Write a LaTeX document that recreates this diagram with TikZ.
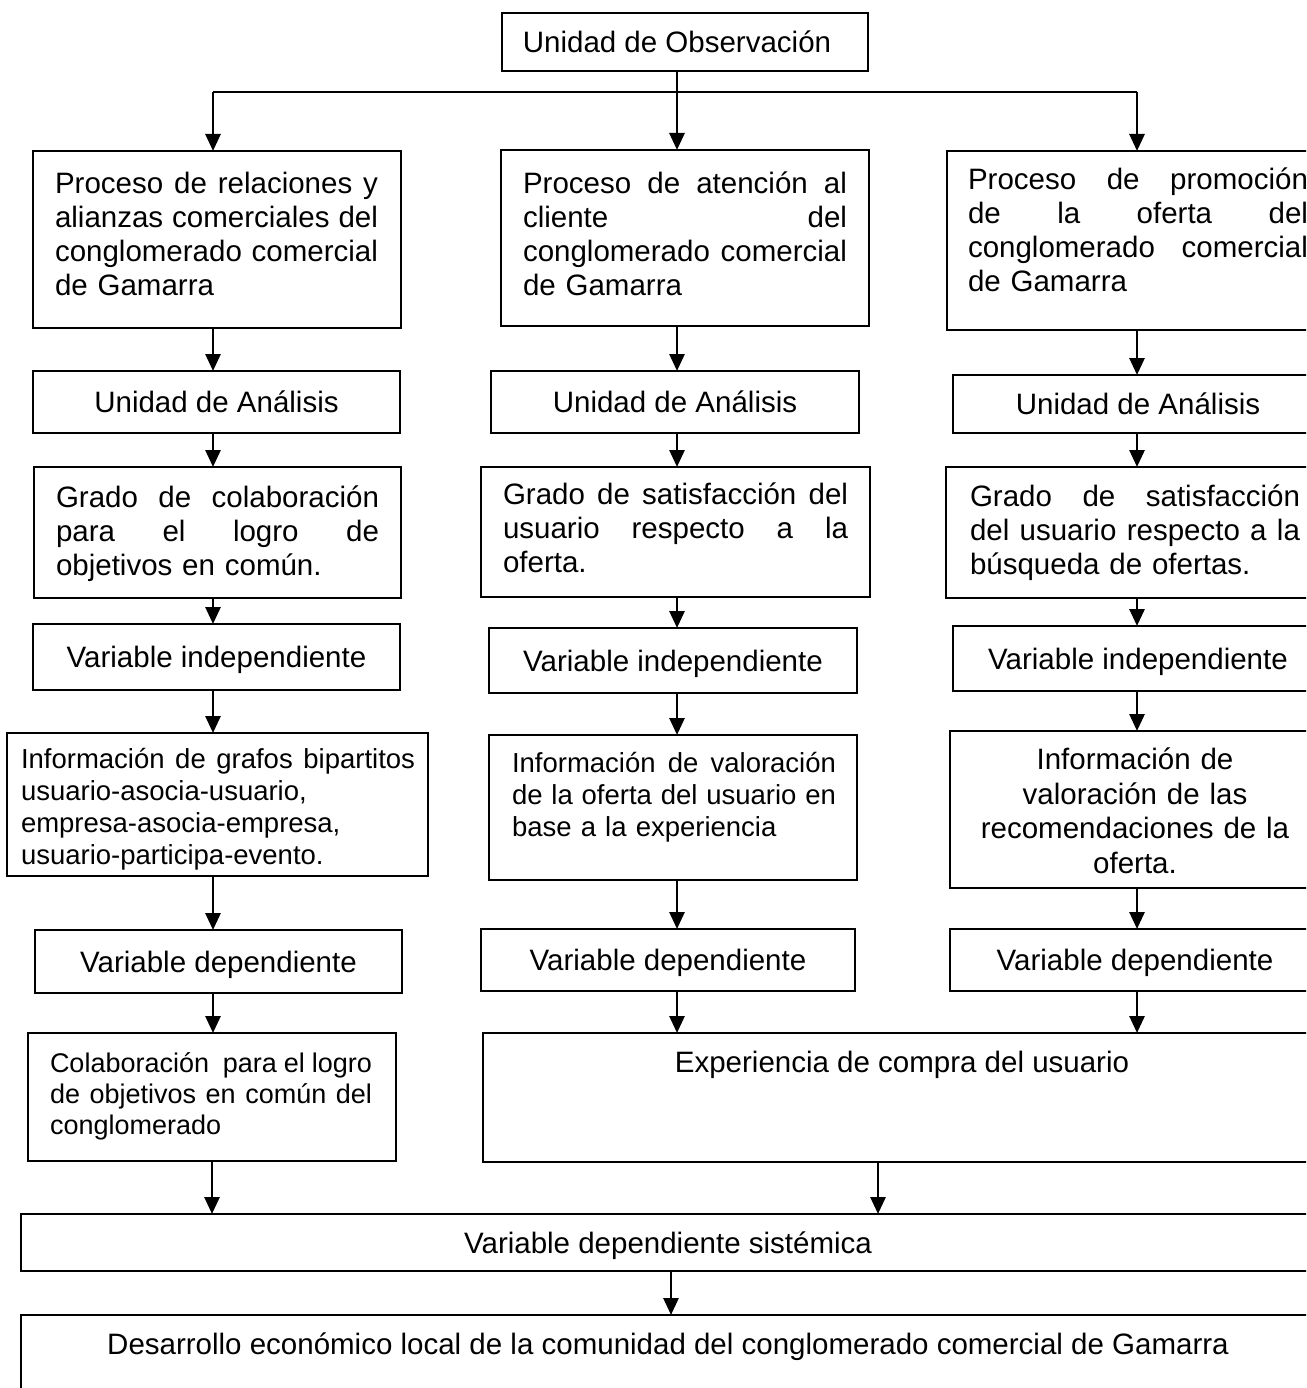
\documentclass[tikz,border=0pt]{standalone}
\usepackage{fontspec}
\setmainfont{Liberation Sans}
\usetikzlibrary{arrows.meta}
% one justified line of a given width: the interword spaces stretch to fill it
\newcommand\jl[2]{\leavevmode\hbox to #1{\spaceskip=0.278em plus 10em minus 0.06em\relax #2}}
% a rectangle given by its corners (x1,y1) and (x2,y2), with optional centred text
\newcommand\bx[7]{%
  \node[#6, minimum width={(#4-#2)*1pt}, minimum height={(#5-#3)*1pt},
        anchor=north west] (#1) at (#2,#3) {#7};}
\begin{document}
\begin{tikzpicture}[x=1pt,y=-1pt,
  frame/.style={draw, line width=2.8pt, inner sep=0pt, outer sep=0pt, rectangle},
  lbl/.style={frame, font=\fontsize{29.5}{34}\selectfont, text height=21pt, text depth=0pt},
  para/.style={inner sep=0pt, outer sep=0pt, anchor=north west, align=left,
               font=\fontsize{29.5}{34}\selectfont},
  smallpara/.style={para, font=\fontsize{27.5}{32}\selectfont},
  oneline/.style={inner sep=0pt, outer sep=0pt, font=\fontsize{29.5}{34}\selectfont},
  arr/.style={line width=2.8pt, -{Triangle[length=17pt,width=15pt]}},
  wire/.style={line width=2.8pt}]

\useasboundingbox (0,0) rectangle (1306,1388);
\fill[white] (0,0) rectangle (1306,1388);
\clip (0,0) rectangle (1306,1388);

% column guides for the vertical connectors
\coordinate (cL) at (213,0);
\coordinate (cM) at (677,0);
\coordinate (cR) at (1137,0);
\coordinate (cE) at (878,0);
\coordinate (cS) at (671,0);
\coordinate (bus) at (677,92);

% ---- top
\bx{obs}{502}{13}{868}{71}{frame}{}
\node[oneline, text height=21pt, text depth=0pt] (obsT) at (677,42) {Unidad de Observación};

% ---- left column
\bx{L1}{33}{151}{401}{328}{frame}{}
\node[para, text width=323pt] (L1t) at (55,172)
  {\jl{323pt}{Proceso de relaciones y}\\ \jl{323pt}{alianzas comerciales del}\\
   \jl{323pt}{conglomerado comercial}\\ de Gamarra};
\bx{L2}{33}{371}{400}{433}{lbl}{Unidad de Análisis}
\bx{L3}{34}{467}{401}{598}{frame}{}
\node[para, text width=323pt] (L3t) at (56,486)
  {\jl{323pt}{Grado de colaboración}\\ \jl{323pt}{para el logro de}\\ objetivos en común.};
\bx{L4}{33}{624}{400}{690}{lbl}{Variable independiente}
\bx{L5}{7}{733}{428}{876}{frame}{}
\node[smallpara, text width=394pt] (L5t) at (21,748)
  {\jl{394pt}{Información de grafos bipartitos}\\ usuario-asocia-usuario,\\
   empresa-asocia-empresa,\\ usuario-participa-evento.};
\bx{L6}{35}{930}{402}{993}{lbl}{Variable dependiente}
\bx{L7}{28}{1033}{396}{1161}{frame}{}
\node[para, font=\fontsize{27}{31}\selectfont, text width=322pt] (L7t) at (50,1053)
  {\jl{322pt}{Colaboración\ \ para el logro}\\ \jl{322pt}{de objetivos en común del}\\ conglomerado};

% ---- middle column
\bx{M1}{501}{150}{869}{326}{frame}{}
\node[para, text width=324pt] (M1t) at (523,172)
  {\jl{324pt}{Proceso de atención al}\\ \jl{324pt}{cliente del}\\
   \jl{324pt}{conglomerado comercial}\\ de Gamarra};
\bx{M2}{491}{371}{859}{433}{lbl}{Unidad de Análisis}
\bx{M3}{481}{467}{870}{597}{frame}{}
\node[para, text width=345pt] (M3t) at (503,483)
  {\jl{345pt}{Grado de satisfacción del}\\ \jl{345pt}{usuario respecto a la}\\ oferta.};
\bx{M4}{489}{628}{857}{693}{lbl}{Variable independiente}
\bx{M5}{489}{735}{857}{880}{frame}{}
\node[smallpara, text width=324pt] (M5t) at (512,752)
  {\jl{324pt}{Información de valoración}\\ \jl{324pt}{de la oferta del usuario en}\\ base a la experiencia};
\bx{M6}{481}{929}{855}{991}{lbl}{Variable dependiente}

% ---- right column
\bx{R1}{947}{151}{1340}{330}{frame}{}
\node[para, text width=340pt] (R1t) at (968,168)
  {\jl{340pt}{Proceso de promoción}\\ \jl{340pt}{de la oferta del}\\
   \jl{340pt}{conglomerado comercial}\\ de Gamarra};
\bx{R2}{953}{375}{1323}{433}{lbl}{Unidad de Análisis}
\bx{R3}{946}{467}{1325}{598}{frame}{}
\node[para, text width=330pt] (R3t) at (970,485)
  {\jl{330pt}{Grado de satisfacción}\\ \jl{330pt}{del usuario respecto a la}\\ búsqueda de ofertas.};
\bx{R4}{953}{626}{1323}{691}{lbl}{Variable independiente}
\bx{R5}{950}{731}{1319}{888}{frame}{}
\node[para, anchor=north, align=center, text width=340pt,
      font=\fontsize{29.5}{34.5}\selectfont] (R5t) at (1135,748)
  {Información de\\ valoración de las\\ recomendaciones de la\\ oferta.};
\bx{R6}{950}{929}{1320}{991}{lbl}{Variable dependiente}

% ---- bottom
\bx{E}{483}{1033}{1340}{1162}{frame}{}
\node[oneline, anchor=base] (Et) at (902,1072) {Experiencia de compra del usuario};
\bx{S}{21}{1214}{1315}{1271}{lbl}{Variable dependiente sistémica}
\bx{D}{21}{1315}{1315}{1420}{frame}{}
\node[oneline, anchor=base] (Dt) at (668,1354)
  {Desarrollo económico local de la comunidad del conglomerado comercial de Gamarra};

% ---- connectors
\draw[wire] (obs.south -| cM) -- (bus);
\draw[wire] (bus -| cL) -- (bus -| cR);
\draw[arr] (bus -| cL) -- (L1.north -| cL);
\draw[arr] (bus) -- (M1.north -| cM);
\draw[arr] (bus -| cR) -- (R1.north -| cR);

\foreach \a/\b in {L1/L2, L2/L3, L3/L4, L4/L5, L5/L6, L6/L7}
  \draw[arr] (\a.south -| cL) -- (\b.north -| cL);
\foreach \a/\b in {M1/M2, M2/M3, M3/M4, M4/M5, M5/M6, M6/E}
  \draw[arr] (\a.south -| cM) -- (\b.north -| cM);
\foreach \a/\b in {R1/R2, R2/R3, R3/R4, R4/R5, R5/R6, R6/E}
  \draw[arr] (\a.south -| cR) -- (\b.north -| cR);

\draw[arr] (L7.south) -- (L7.south |- S.north);
\draw[arr] (E.south -| cE) -- (S.north -| cE);
\draw[arr] (S.south -| cS) -- (D.north -| cS);
\end{tikzpicture}
\end{document}
